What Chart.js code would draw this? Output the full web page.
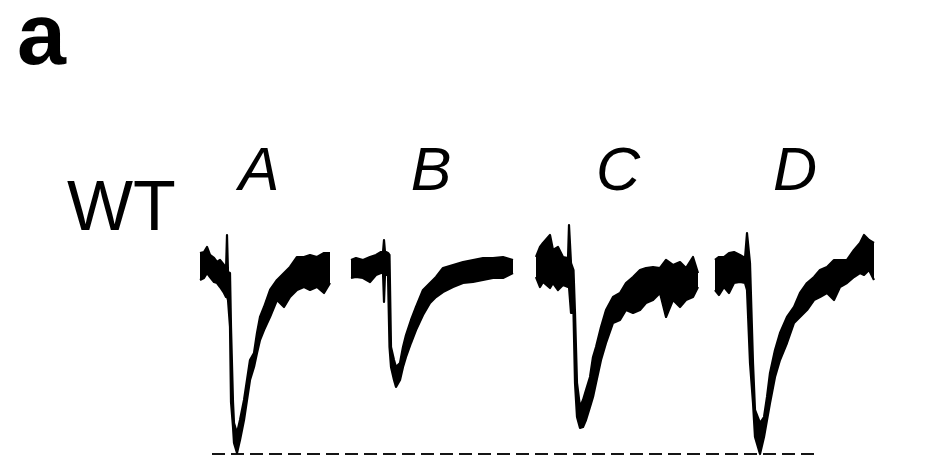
<!DOCTYPE html>
<html>
<head>
<meta charset="utf-8">
<script src="https://cdn.jsdelivr.net/npm/chart.js@4.4.1/dist/chart.umd.min.js"></script>
<style>
  body { margin: 0; background: #fff; }
  #wrap { position: relative; width: 927px; height: 460px; overflow: hidden; background: #fff; }
  #traces { position: absolute; left: 0; top: 0; }
  .lbl { position: absolute; font-family: "Liberation Sans", Arial, sans-serif; line-height: 1; color: #000; white-space: nowrap; }
  .panel { font-size: 88px; font-weight: bold; left: 17px; top: -10px; }
  .geno { font-size: 70px; left: 67px; top: 171px; }
  .cond { font-size: 61px; font-style: italic; width: 80px; text-align: center; top: 139px; }
</style>
</head>
<body>
<div id="wrap">
  <canvas id="traces" width="927" height="460"></canvas>
  <div class="lbl panel">a</div>
  <div class="lbl geno">WT</div>
  <div class="lbl cond" style="left:219px">A</div>
  <div class="lbl cond" style="left:391px">B</div>
  <div class="lbl cond" style="left:578px">C</div>
  <div class="lbl cond" style="left:755px">D</div>
</div>
<script>
// time from stimulus (ms) and upper / lower edge of the noisy current band (pA)
const conditions = ["A", "B", "C", "D"];

const tA = [-27, -23, -20, -17, -13, -10, -7, -3, -1, 0, 1, 3, 4, 6, 7, 10, 13, 17, 20, 23, 27, 30, 33, 37, 43, 50, 57, 63, 70, 77, 83, 90, 97, 103];
const hiA = [14, 15, 20, 12, 9, 5, 7, 2, -3, 32, -5, -6, -60, -135, -156, -166, -153, -133, -113, -93, -86, -66, -50, -40, -23, -13, -6, 0, 10, 10, 12, 10, 14, 14];
const loA = [-13, -11, -6, -10, -15, -16, -20, -26, -30, -30, -33, -60, -135, -160, -176, -186, -173, -153, -133, -113, -100, -86, -73, -63, -50, -33, -40, -30, -23, -20, -23, -20, -26, -16];

const tB = [-33, -28, -21, -14, -8, -3, -1, 0, 1, 2, 4, 5.5, 7, 10, 12, 16, 19, 22, 27, 32, 39, 46, 52, 59, 69, 79, 89, 99, 109, 119, 129];
const hiB = [7, 9, 7, 10, 12, 15, 15, 27, 15, 15, 14, 12, -80, -93, -100, -96, -80, -68, -53, -40, -23, -16, -10, -1, 2, 5, 7, 9, 9, 10, 7];
const loB = [-11, -10, -11, -15, -8, -6, -6, -35, -8, -8, -8, -80, -100, -113, -120, -113, -100, -90, -76, -63, -48, -36, -30, -25, -20, -16, -15, -13, -11, -11, -6];

const tC = [-33, -29, -26, -19, -16, -11, -6, -1, 0, 2, 4.5, 6, 8, 11, 14, 17, 21, 24, 27, 32, 37, 44, 51, 57, 64, 71, 77, 84, 91, 97, 104, 111, 117, 124, 129];
const hiC = [10, 20, 24, 32, 17, 20, 10, 9, 42, 4, -3, -46, -116, -140, -133, -123, -110, -90, -80, -60, -43, -30, -26, -16, -10, -3, -1, 0, -1, 7, 2, 5, -1, 10, -6];
const loC = [-10, -20, -15, -21, -16, -23, -18, -20, -20, -46, -46, -116, -150, -161, -160, -153, -140, -130, -116, -93, -76, -56, -53, -43, -46, -43, -36, -33, -26, -50, -33, -40, -33, -30, -20];

const tD = [-32, -28, -23, -18, -13, -7, -2, 0, 3, 6, 8, 13, 17, 20, 23, 28, 33, 40, 47, 53, 60, 67, 73, 80, 87, 93, 100, 107, 113, 117, 122, 127];
const hiD = [7, 10, 10, 14, 15, 12, 9, 34, 4, -96, -143, -156, -150, -130, -106, -83, -66, -50, -40, -26, -16, -10, -3, 0, 7, 7, 7, 17, 24, 32, 27, 24];
const loD = [-23, -28, -20, -26, -16, -15, -16, -23, -96, -136, -170, -187, -170, -153, -136, -110, -93, -76, -56, -50, -43, -33, -30, -26, -33, -20, -16, -10, -6, -8, -3, -13];

const peakLevel = -187; // dashed reference at the largest peak

// layout: where each sweep sits on the shared time axis, and the dashed line extent
const sweepStart = [227, 384, 569, 747];
const dashFrom = 212, dashTo = 820;

const sweeps = [
  { t: tA, hi: hiA, lo: loA },
  { t: tB, hi: hiB, lo: loB },
  { t: tC, hi: hiC, lo: loC },
  { t: tD, hi: hiD, lo: loD },
];

function edge(sweep, values, start) {
  return sweep.t.map((t, i) => ({ x: start + t, y: values[i] }));
}

const datasets = [];
sweeps.forEach((s, k) => {
  datasets.push({
    label: conditions[k] + " upper",
    data: edge(s, s.hi, sweepStart[k]),
    borderColor: "#000",
    backgroundColor: "#000",
    borderWidth: 2.2,
    fill: "+1",
  });
  datasets.push({
    label: conditions[k] + " lower",
    data: edge(s, s.lo, sweepStart[k]),
    borderColor: "#000",
    backgroundColor: "#000",
    borderWidth: 2.2,
    fill: false,
  });
});

datasets.push({
  label: "peak",
  data: [{ x: dashFrom, y: peakLevel }, { x: dashTo, y: peakLevel }],
  borderColor: "#151515",
  borderWidth: 2,
  borderDash: [13, 6],
  fill: false,
});

const ctx = document.getElementById("traces").getContext("2d");
const chart = new Chart(ctx, {
  type: "line",
  data: { datasets },
  options: {
    responsive: false,
    animation: false,
    devicePixelRatio: 1,
    layout: { padding: 0 },
    elements: {
      point: { radius: 0 },
      line: { tension: 0, borderJoinStyle: "round" },
    },
    plugins: {
      legend: { display: false },
      tooltip: { enabled: false },
    },
    scales: {
      x: { type: "linear", min: 0, max: 927, display: false },
      y: { min: -193, max: 267, display: false },
    },
  },
});
</script>
</body>
</html>
